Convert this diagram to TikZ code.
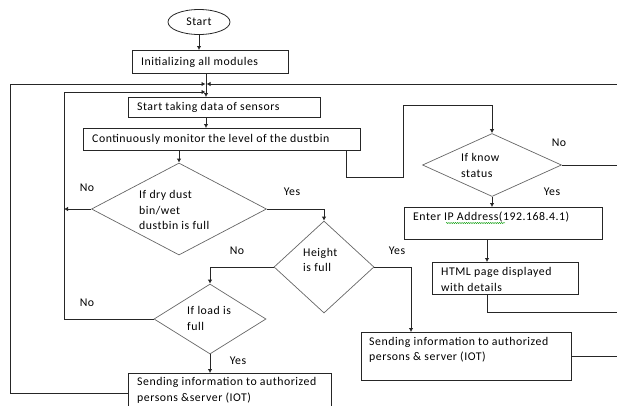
\documentclass[tikz,border=0pt]{standalone}
\usepackage{fontspec}
\setmainfont{Carlito}[LetterSpace=4.5]
\usetikzlibrary{shapes.geometric,arrows.meta,decorations.pathmorphing}
\begin{document}
\begin{tikzpicture}[x=1pt,y=-1pt,
  box/.style={draw=black!85,line width=0.8pt,inner sep=0,anchor=north west},
  dia/.style={draw=black!60,diamond,line width=0.7pt,inner sep=0},
  txt/.style={font=\fontsize{11.8}{15.5}\selectfont,align=left,anchor=west,inner sep=0},
  lbl/.style={font=\fontsize{11.8}{13}\selectfont,inner sep=0},
  arr/.style={draw=black!85,line width=0.8pt,-{Latex[length=4pt,width=4.5pt]}},
  ln/.style={draw=black!85,line width=0.8pt}]
\useasboundingbox (0,0) rectangle (617,405);
% helper coordinates
\coordinate (j) at (206,84);
\coordinate (j2) at (206,92);
\coordinate (L) at (10,84);
\coordinate (L2) at (64,92);
\coordinate (R) at (617,84);
\coordinate (k1) at (346,177);
\coordinate (k2) at (403,105);
\coordinate (m) at (411,0);
\coordinate (n) at (487,0);
\coordinate (n2) at (487,312);
\coordinate (n3) at (617,312);
% nodes
\node[draw=black!85,line width=0.8pt,ellipse,minimum width=62pt,minimum height=25pt,inner sep=0,font=\fontsize{11.8}{13}\selectfont] (start) at (199,22) {Start};
\node[box,minimum width=156pt,minimum height=23pt] (init) at (132,50) {};
\node[txt] (initt) at (141,62) {Initializing all modules};
\node[box,minimum width=192pt,minimum height=20pt] (st) at (128,97) {};
\node[txt] (stt) at (137,107) {Start taking data of sensors};
\node[box,minimum width=277pt,minimum height=22pt] (cm) at (83,128) {};
\node[txt] (cmt) at (92,139) {Continuously monitor the level of the dustbin};
\node[dia,minimum width=175pt,minimum height=92pt] (d1) at (179,209) {};
\node[txt] (d1t) at (139,210) {If dry dust\\bin/wet\\dustbin is full};
\node[dia,minimum width=100pt,minimum height=92pt] (d2) at (324,267) {};
\node[txt] (d2t) at (303,260) {Height\\is full};
\node[dia,minimum width=112pt,minimum height=70pt] (d3) at (210,319) {};
\node[txt] (d3t) at (187,318.5) {If load is\\full};
\node[box,minimum width=203pt,minimum height=40pt] (s1) at (128,373) {};
\node[txt] (s1t) at (137,390.5) {Sending information to authorized\\persons \&server (IOT)};
\node[dia,minimum width=139pt,minimum height=63pt] (d4) at (492,165) {};
\node[txt] (d4t) at (461,165.5) {If know\\status};
\node[box,minimum width=198pt,minimum height=32pt] (ip) at (404,207) {};
\node[txt] (ipt) at (413,217) {Enter IP Address(192.168.4.1)};
\node[box,minimum width=146pt,minimum height=32pt] (html) at (432,262) {};
\node[txt] (htmlt) at (441,279.5) {HTML page displayed\\with details};
\node[box,minimum width=210pt,minimum height=48pt] (s2) at (361,332) {};
\node[txt] (s2t) at (369,350) {Sending information to authorized\\persons \& server (IOT)};
% labels
\node[lbl] (no1) at (87,188) {No};
\node[lbl] (yes1) at (292,192) {Yes};
\node[lbl] (no2) at (237,251) {No};
\node[lbl] (yes2) at (397,251) {Yes};
\node[lbl] (no3) at (87,303) {No};
\node[lbl] (yes3) at (238,361) {Yes};
\node[lbl] (no4) at (559,143) {No};
\node[lbl] (yes4) at (552,192) {Yes};
% spell-check squiggle
\draw[green!60!black,line width=0.4pt,decorate,decoration={snake,amplitude=0.6pt,segment length=2.2pt}] (446,223) -- (505,223);
% connectors
\draw[arr] (start.south) -- (start.south |- init.north);
\draw[arr] (init.south -| j) -- (st.north -| j);
\draw[arr] (s1.west) -| (L) -- ([xshift=-0.5pt]j);
\draw[arr] (R) -- ([xshift=0.5pt]j);
\draw[arr] (d3.west) -| (L2) -- ([xshift=-0.5pt]j2);
\draw[arr] (d1.west) -- (d1.west -| L2);
\draw[arr] (st.south -| j) -- (cm.north -| j);
\draw[arr] (d1.north |- cm.south) -- (d1.north);
\draw[arr] (cm.south -| k1) -- (k1) -| (k2) -| (d4.north);
\draw[arr] (d1.east) -| (d2.north);
\draw[arr] (d2.west) -| (d3.north);
\draw[arr] (d2.east) -| (s2.north -| m);
\draw[arr] (d3.south) -- (s1.north -| d3.south);
\draw[ln] (d4.east) -- (d4.east -| R);
\draw[arr] (d4.south) -- (ip.north -| d4.south);
\draw[arr] (ip.south -| n) -- (html.north -| n);
\draw[ln] (html.south -| n) -- (n2) -- (n3);
\draw[ln] (s2.east) -- (s2.east -| R);
\end{tikzpicture}
\end{document}
